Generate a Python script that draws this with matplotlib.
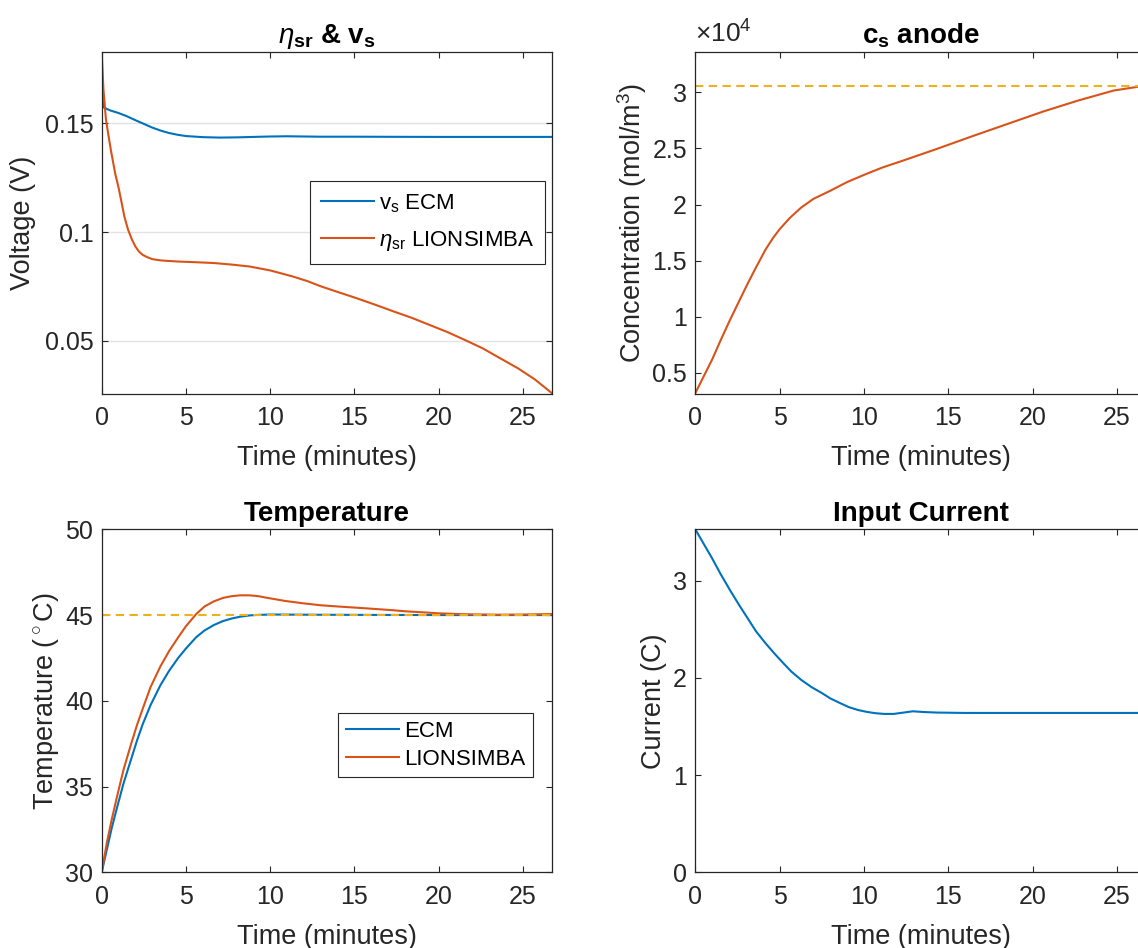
import matplotlib
matplotlib.use("Agg")
import matplotlib.pyplot as plt
from matplotlib.ticker import FuncFormatter

plt.rcParams['font.family'] = ['Liberation Sans', 'DejaVu Sans']
plt.rcParams['mathtext.fontset'] = 'custom'
plt.rcParams['mathtext.rm'] = 'Liberation Sans'
plt.rcParams['mathtext.it'] = 'Liberation Sans:italic'
plt.rcParams['mathtext.bf'] = 'Liberation Sans:bold'

BLUE = '#0072BD'
ORANGE = '#D95319'
YELLOW = '#EDB120'
AX = '#262626'

# ---------------- data ----------------
t_max = 26.74

# eta_sr & v_s
t_vs = [0, 0.08, 0.5, 1.0, 1.5, 2.0, 2.5, 3.0, 3.5, 4.0, 4.5, 5.0, 6.0, 7.0, 8.0,
        9.0, 10.0, 11.0, 12.0, 13.0, 15.0, 20.0, 26.74]
v_s_ecm = [0.172, 0.1575, 0.1560, 0.1548, 0.1533, 0.1515, 0.1498, 0.1481, 0.1467,
           0.1456, 0.1448, 0.1442, 0.1437, 0.1435, 0.1436, 0.1438, 0.1440, 0.1441,
           0.1440, 0.1439, 0.1439, 0.1438, 0.1438]
t_eta = [0, 0.1, 0.25, 0.4, 0.55, 0.8, 1.0, 1.15, 1.35, 1.57, 1.8, 2.0, 2.2, 2.42,
         2.7, 3.0, 3.5, 4.5, 5.5, 6.66, 7.7, 8.78, 10.0, 11.3, 12.2, 13.0, 14.0,
         15.1, 16.2, 17.3, 18.4, 19.4, 20.5, 21.5, 22.6, 23.6, 24.7, 25.7, 26.74]
eta_sr_lion = [0.183, 0.166, 0.152, 0.1445, 0.1375, 0.127, 0.1205, 0.1148, 0.107,
               0.101, 0.0965, 0.0934, 0.0912, 0.0896, 0.0885, 0.0876, 0.0870,
               0.0865, 0.0862, 0.0858, 0.0851, 0.0842, 0.0824, 0.0797, 0.0775,
               0.0751, 0.0725, 0.0697, 0.0667, 0.0636, 0.0606, 0.0575, 0.0541,
               0.0506, 0.0466, 0.0422, 0.0374, 0.0323, 0.0258]

# c_s anode
t_cs = [0, 0.5, 1.0, 1.5, 2.07, 2.6, 3.12, 3.6, 4.17, 4.6, 5.0, 5.6, 6.28, 7.0,
        7.97, 9.0, 10.1, 11.1, 12.2, 14.3, 16.4, 18.5, 20.6, 22.7, 24.8, 26.74]
cs_anode = [3200, 4700, 6200, 7900, 9760, 11400, 13000, 14400, 16000, 17000, 17800,
            18800, 19730, 20500, 21200, 22000, 22700, 23300, 23850, 24940, 26070,
            27170, 28270, 29260, 30150, 30600]
cs_max = 30555

# Temperature
t_T_ecm = [0, 0.3, 0.6, 0.93, 1.3, 1.78, 2.1, 2.42, 2.9, 3.48, 4.0, 4.54, 5.0, 5.6,
           6.1, 6.66, 7.2, 7.72, 8.2, 8.78, 9.3, 10.05, 12, 15, 20, 26.74]
T_ecm = [30, 31.3, 32.6, 33.85, 35.2, 36.7, 37.7, 38.6, 39.75, 40.9, 41.75, 42.5,
         43.05, 43.7, 44.1, 44.42, 44.65, 44.8, 44.9, 44.98, 45.01, 45.03, 45.02,
         45.01, 45.0, 45.0]
t_T_lion = [0, 0.3, 0.6, 0.93, 1.3, 1.78, 2.1, 2.42, 2.9, 3.48, 4.0, 4.54, 5.0,
            5.6, 6.1, 6.66, 7.2, 7.72, 8.2, 8.78, 9.3, 9.84, 10.9, 12.0, 13.0, 14.0,
            15.1, 16.0, 17.3, 18.0, 19.4, 20.0, 21.5, 22.0, 23.6, 25.0, 26.74]
T_lion = [30, 31.7, 33.1, 34.5, 36.0, 37.6, 38.6, 39.5, 40.8, 42.0, 42.9, 43.7,
          44.35, 45.05, 45.5, 45.8, 46.0, 46.1, 46.15, 46.15, 46.1, 46.0, 45.82, 45.68,
          45.57, 45.5, 45.43, 45.37, 45.28, 45.22, 45.14, 45.1, 45.05, 45.04, 45.02,
          45.03, 45.06]
T_ref = 45

# Input current
t_I = [0, 0.5, 1.0, 1.5, 2.07, 2.6, 3.12, 3.6, 4.17, 4.7, 5.23, 5.7, 6.28, 6.9,
       7.55, 8.0, 8.6, 9.1, 9.65, 10.2, 10.7, 11.2, 11.76, 12.4, 12.9, 13.5, 14.3,
       16, 20, 26.74]
I_in = [3.53, 3.38, 3.23, 3.07, 2.90, 2.75, 2.61, 2.48, 2.356, 2.25, 2.15, 2.065,
        1.98, 1.905, 1.84, 1.79, 1.74, 1.70, 1.67, 1.65, 1.637, 1.63, 1.63, 1.645,
        1.657, 1.65, 1.644, 1.64, 1.64, 1.64]

x_ticks = [0, 5, 10, 15, 20, 25]

# ---------------- figure ----------------
W, H = 1138, 948
fig = plt.figure(figsize=(W / 100, H / 100), dpi=100)

def px_axes(l, t, r, b):
    return fig.add_axes([l / W, 1 - b / H, (r - l) / W, (b - t) / H])

ax1 = px_axes(101.7, 51.7, 552.3, 393.7)
ax2 = px_axes(695.3, 51.7, 1146.3, 393.7)
ax3 = px_axes(101.7, 529.3, 552.3, 872.3)
ax4 = px_axes(695.3, 529.3, 1146.3, 872.3)

TICK_FS = 18
LAB_FS = 19.5
TITLE_FS = 20
LW = 1.5

def style(ax):
    for s in ax.spines.values():
        s.set_color(AX)
        s.set_linewidth(0.9)
    ax.tick_params(direction='in', top=True, right=True, length=4.5, width=0.8,
                   colors=AX, labelsize=TICK_FS)
    ax.tick_params(axis='x', pad=9)
    ax.tick_params(axis='y', pad=6)
    ax.set_xlim(0, t_max)
    ax.set_xticks(x_ticks)
    ax.set_xlabel('Time (minutes)', fontsize=LAB_FS, color=AX)
    ax.xaxis.set_label_coords(0.5, -0.15)

fmt_g = FuncFormatter(lambda v, p: f'{v:g}')

# eta & v_s
style(ax1)
ax1.plot(t_vs, v_s_ecm, color=BLUE, lw=LW, label=r'v$_\mathregular{s}$ ECM')
ax1.plot(t_eta, eta_sr_lion, color=ORANGE, lw=LW, label=r'$\eta_\mathregular{sr}$ LIONSIMBA')
ax1.set_ylim(0.0257, 0.183)
ax1.set_yticks([0.05, 0.1, 0.15])
ax1.yaxis.set_major_formatter(fmt_g)
ax1.grid(axis='y', color='#e3e3e3', lw=1.0)
ax1.set_axisbelow(True)
ax1.set_ylabel('Voltage (V)', fontsize=LAB_FS, color=AX)
ax1.yaxis.set_label_coords(-0.145, 0.5)
ax1.set_title(r'$\eta_{\mathbf{sr}}$ & v$_\mathbf{s}$', fontsize=TITLE_FS,
              fontweight='bold', pad=6)
leg1 = ax1.legend(loc='upper right', bbox_to_anchor=(0.984, 0.622), fontsize=16,
                  frameon=True, fancybox=False, edgecolor=AX, framealpha=1,
                  handlelength=2.4, handletextpad=0.2, borderpad=0.5,
                  labelspacing=0.65, borderaxespad=0)
leg1.get_frame().set_linewidth(0.8)

# c_s anode
style(ax2)
ax2.plot(t_cs, cs_anode, color=ORANGE, lw=LW)
ax2.axhline(cs_max, color=YELLOW, lw=LW, dashes=(4, 2.6))
ax2.set_ylim(3150, 33610)
ax2.set_yticks([5000, 10000, 15000, 20000, 25000, 30000])
ax2.yaxis.set_major_formatter(FuncFormatter(lambda v, p: f'{v / 1e4:g}'))
ax2.text(0.0, 1.012, r'$\times$10$^\mathregular{4}$', transform=ax2.transAxes,
         ha='left', va='bottom', fontsize=TICK_FS + 1, color=AX)
ax2.set_ylabel(r'Concentration (mol/m$^\mathregular{3}$)', fontsize=LAB_FS, color=AX)
ax2.yaxis.set_label_coords(-0.103, 0.5)
ax2.set_title(r'c$_\mathbf{s}$ anode', fontsize=TITLE_FS, fontweight='bold', pad=6)

# Temperature
style(ax3)
ax3.plot(t_T_ecm, T_ecm, color=BLUE, lw=LW, label='ECM')
ax3.plot(t_T_lion, T_lion, color=ORANGE, lw=LW, label='LIONSIMBA')
ax3.axhline(T_ref, color=YELLOW, lw=LW, dashes=(4, 2.6))
ax3.set_ylim(30, 50)
ax3.set_yticks([30, 35, 40, 45, 50])
ax3.set_ylabel(r'Temperature ($^\circ$C)', fontsize=LAB_FS, color=AX)
ax3.yaxis.set_label_coords(-0.09, 0.5)
ax3.set_title('Temperature', fontsize=TITLE_FS, fontweight='bold', pad=6)
h, l = ax3.get_legend_handles_labels()
leg3 = ax3.legend(h[:2], l[:2], loc='upper right', bbox_to_anchor=(0.957, 0.464),
                  fontsize=16, frameon=True, fancybox=False, edgecolor=AX,
                  framealpha=1, handlelength=2.4, handletextpad=0.2,
                  borderpad=0.35, labelspacing=0.3, borderaxespad=0)
leg3.get_frame().set_linewidth(0.8)

# Input current
style(ax4)
ax4.plot(t_I, I_in, color=BLUE, lw=LW)
ax4.set_ylim(0, 3.53)
ax4.set_yticks([0, 1, 2, 3])
ax4.set_ylabel('Current (C)', fontsize=LAB_FS, color=AX)
ax4.yaxis.set_label_coords(-0.062, 0.5)
ax4.set_title('Input Current', fontsize=TITLE_FS, fontweight='bold', pad=6)

fig.savefig('out.png', dpi=100)
